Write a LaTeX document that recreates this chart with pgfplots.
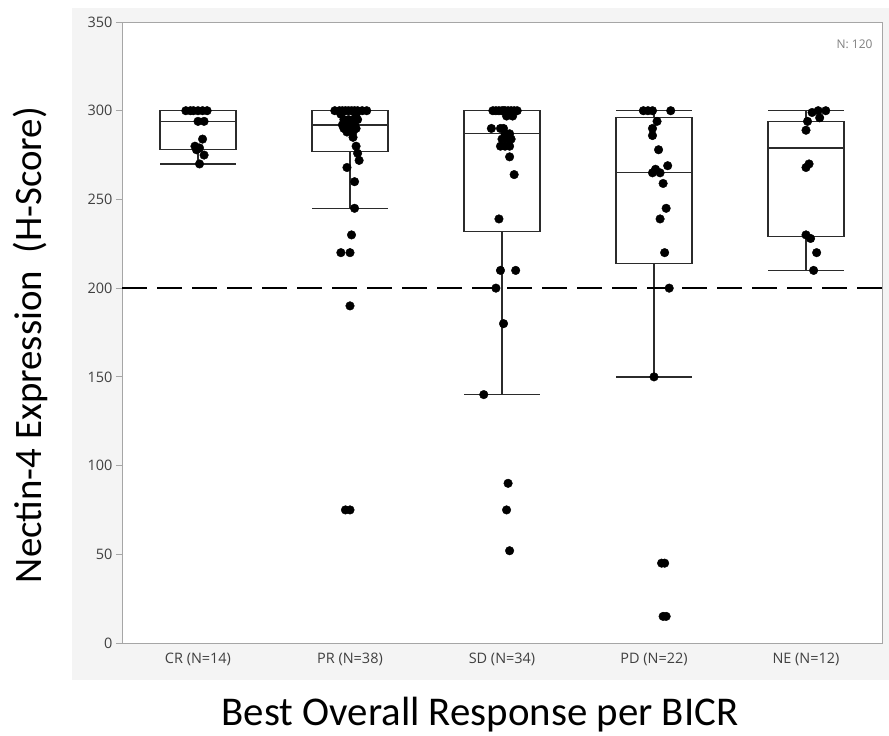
\documentclass[border=0pt]{standalone}
\usepackage{fontspec}
\setmainfont{Carlito}
\newfontfamily\tickfont{Open Sans}
\usepackage{pgfplots}
\usepackage{pgfplotstable}
\pgfplotsset{compat=1.18}
\definecolor{panelgray}{HTML}{F4F4F4}
\definecolor{axisgray}{HTML}{A6A6A6}
\definecolor{ticktext}{HTML}{404040}
\definecolor{boxline}{HTML}{2B2B2B}

% H-scores per response group (x = category position with jitter)
\pgfplotstableread{
x y
-0.08 300
-0.05 300
-0.03 300
0.00 300
0.03 300
0.06 300
0.00 294
0.04 294
0.03 284
-0.02 280
0.01 279
-0.01 278
0.04 275
0.01 270
}\crdata
\pgfplotstableread{
x y
0.90 300
0.93 300
0.95 300
0.97 300
0.99 300
1.01 300
1.03 300
1.05 300
1.08 300
1.11 300
0.94 298
1.04 298
0.96 295
0.99 295
1.02 295
1.05 295
0.95 292
0.98 292
1.01 292
1.03 292
0.96 290
1.00 290
1.04 290
0.98 288
1.02 288
1.02 285
1.04 280
1.05 276
1.06 272
0.98 268
1.03 260
1.03 245
1.01 230
0.94 220
1.00 220
1.00 190
0.97 75
1.00 75
}\prdata
\pgfplotstableread{
x y
1.94 300
1.96 300
1.98 300
2.00 300
2.01 300
2.02 300
2.04 300
2.06 300
2.08 300
2.10 300
2.03 297
2.07 297
1.93 290
1.99 290
2.01 290
2.02 287
2.05 287
2.00 284
2.04 284
2.06 284
1.99 280
2.02 280
2.05 280
2.05 274
2.08 264
1.98 239
1.99 210
2.09 210
1.96 200
2.01 180
1.88 140
2.04 90
2.03 75
2.05 52
}\sddata
\pgfplotstableread{
x y
2.93 300
2.96 300
2.99 300
3.11 300
3.02 294
2.99 290
2.99 286
3.03 278
3.09 269
3.01 267
2.99 265
3.04 265
3.06 259
3.08 245
3.04 239
3.07 220
3.10 200
3.00 150
3.05 45
3.07 45
3.06 15
3.08 15
}\pddata
\pgfplotstableread{
x y
4.08 300
4.13 300
4.04 299
4.09 296
4.01 294
4.00 289
4.02 270
4.00 268
4.00 230
4.03 228
4.07 220
4.05 210
}\nedata

% box: position, lower whisker, Q1, median, Q3, upper whisker
\newcommand\respbox[6]{%
  \addplot[boxline, line width=1.3bp, line join=miter] coordinates
    {(#1-0.25,#3) (#1+0.25,#3) (#1+0.25,#5) (#1-0.25,#5)} -- cycle;
  \addplot[boxline, line width=1.3bp] coordinates {(#1-0.25,#4) (#1+0.25,#4)};
  \addplot[boxline, line width=1.3bp] coordinates {(#1,#3) (#1,#2)};
  \addplot[boxline, line width=1.3bp] coordinates {(#1-0.25,#2) (#1+0.25,#2)};
  \addplot[boxline, line width=1.3bp] coordinates {(#1,#5) (#1,#6)};
  \addplot[boxline, line width=1.3bp] coordinates {(#1-0.25,#6) (#1+0.25,#6)};
}

\begin{document}
\begin{tikzpicture}
\path[use as bounding box] (-122bp,-93bp) rectangle (767bp,643bp);
\fill[panelgray] (-50bp,-37bp) rectangle (767bp,635bp);
\begin{axis}[
    scale only axis,
    width=760bp, height=621bp,
    xmin=-0.5, xmax=4.5,
    ymin=0, ymax=350,
    axis background/.style={fill=white},
    axis line style={axisgray, line width=0.8bp},
    xtick={0,1,2,3,4},
    xticklabels={CR (N=14), PR (N=38), SD (N=34), PD (N=22), NE (N=12)},
    xtick style={draw=none},
    ytick={0,50,...,350},
    ytick pos=left,
    ytick style={axisgray, line width=0.8bp},
    tick align=outside,
    major tick length=6bp,
    tick label style={font=\tickfont\fontsize{14.5}{17}\selectfont, text=ticktext},
    /pgf/number format/assume math mode=true,
    xticklabel style={yshift=-1bp},
]
\respbox{0}{270}{278}{294}{300}{300}
\respbox{1}{245}{277}{292}{300}{300}
\respbox{2}{140}{232}{287}{300}{300}
\respbox{3}{150}{214}{265}{296}{300}
\respbox{4}{210}{229}{279}{294}{300}

% threshold
\addplot[black, line width=2.6bp, dash pattern=on 25bp off 10bp] coordinates {(-0.5,200) (4.5,200)};

\addplot[only marks, mark=*, mark size=4.3bp, black] table {\crdata};
\addplot[only marks, mark=*, mark size=4.3bp, black] table {\prdata};
\addplot[only marks, mark=*, mark size=4.3bp, black] table {\sddata};
\addplot[only marks, mark=*, mark size=4.3bp, black] table {\pddata};
\addplot[only marks, mark=*, mark size=4.3bp, black] table {\nedata};

\node[anchor=north east, font=\tickfont\fontsize{12}{14}\selectfont, text=gray]
    at (rel axis cs:1,1) [xshift=-6bp, yshift=-14bp] {N: 120};
\end{axis}
\node[rotate=90, font=\fontsize{39}{44}\selectfont] at (-92bp,298bp) {Nectin-4 Expression\ \ (H-Score)};
\node[font=\fontsize{41}{46}\selectfont] at (358bp,-72bp) {Best Overall Response per BICR};
\end{tikzpicture}
\end{document}
